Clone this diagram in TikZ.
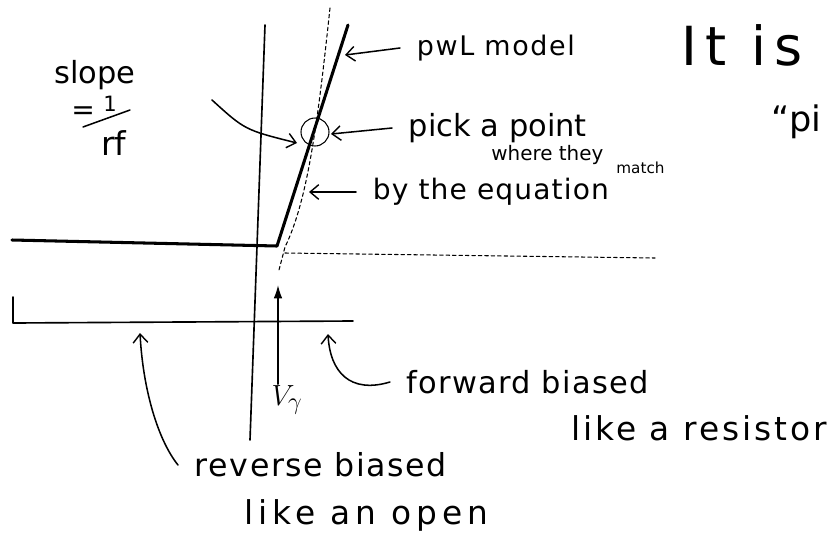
\documentclass[tikz,border=0pt]{standalone}
\usepackage{fontspec}
\setmainfont{DejaVu Sans}
\usepackage{amsmath}
\usetikzlibrary{arrows.meta,calc,positioning}

\begin{document}
\begin{tikzpicture}[x=0.03cm,y=-0.03cm,line cap=round,line join=round]
  \tikzset{txt/.style={inner sep=1pt, anchor=west, font=\fontsize{24}{28}\selectfont},
    note/.style={txt, inner xsep=5mm},
    hand/.style={line width=1.3pt, -{Straight Barb[length=2.6mm,width=4.4mm,line width=1.2pt]}},
    axis/.style={line width=1.4pt},
    pwlline/.style={line width=2.6pt},
    eqnline/.style={line width=0.9pt, dash pattern=on 3pt off 2.5pt}}
  \clip (0,0) rectangle (840,550);
  \fill[white] (0,0) rectangle (840,550);

  \draw[axis] (265,25) -- (250,440);
  \draw[axis] (13,297) -- (13,323) -- (353,321);
  \draw[pwlline] (12,240) -- (277,246) -- (348,25);
  \draw[eqnline] (330,8) .. controls (318,120) and (308,200) .. (285,247) -- (279,270);
  \draw[eqnline] (285,253) -- (655,258);
  \draw[line width=0.9pt] (315,132) circle[radius=14];

  \coordinate (pwlpt) at (345,55);
  \coordinate (circpt) at (331,134);
  \coordinate (eqpt) at (309,192);
  \coordinate (slopetail) at (212,100);
  \coordinate (slopept) at (297,143);
  \coordinate (vgpt) at (278,285);
  \coordinate (fwdpt) at (328,334);
  \coordinate (revpt) at (140,333);

  \node[note, font=\fontsize{23}{26}\selectfont\addfontfeature{LetterSpace=6}] (pwl) at (400,48) {pwL model};
  \node[note, font=\fontsize{26}{30}\selectfont] (pick) at (392,128) {pick a point};
  \node[txt, font=\fontsize{17}{20}\selectfont] (where) at (490,155) {where they};
  \node[txt, font=\fontsize{13}{15}\selectfont] (match) at (615,168) {match};
  \node[note, font=\fontsize{24}{28}\selectfont\addfontfeature{LetterSpace=4}] (eqn) at (356,192) {by the equation};
  \node[txt, font=\fontsize{46}{50}\selectfont\addfontfeature{LetterSpace=15}] (itis) at (680,45) {It is};
  \node[txt, font=\fontsize{30}{34}\selectfont] (pie) at (770,122) {“pi};

  \node[txt, font=\fontsize{26}{30}\selectfont] (slope) at (53,75) {slope};
  \node[txt] (eqsign) at (70,113) {=};
  \node[txt, font=\fontsize{18}{20}\selectfont] (one) at (102,104) {1};
  \node[txt, font=\fontsize{28}{32}\selectfont] (rf) at (100,143) {rf};
  \draw[line width=1.3pt] (83,127) -- (130,110);

  \node[txt, font=\fontsize{28}{32}\selectfont, anchor=center] (vg) at (287,400) {$V_{\gamma}$};
  \node[note, font=\fontsize{26}{30}\selectfont\addfontfeature{LetterSpace=4}] (fwd) at (390,382) {forward biased};
  \node[txt, font=\fontsize{28}{32}\selectfont\addfontfeature{LetterSpace=9}] (res) at (570,428) {like a resistor};
  \node[note, font=\fontsize{27}{31}\selectfont\addfontfeature{LetterSpace=5}] (rev) at (178,465) {reverse biased};
  \node[txt, font=\fontsize{28}{32}\selectfont\addfontfeature{LetterSpace=15}] (open) at (243,515) {like an open};

  \draw[hand] (pwl.west) -- (pwlpt);
  \draw[hand] (pick.west) -- (circpt);
  \draw[hand] (eqn.west) -- (eqpt);
  \draw[hand] (slopetail) .. controls (245,130) .. (slopept);
  \draw[line width=1.4pt, -{Latex[length=4mm,width=2.6mm]}] (vg.north -| vgpt) -- (vgpt);
  \draw[hand] (fwd.west) .. controls (350,394) and (330,372) .. (fwdpt);
  \draw[hand] (rev.west) .. controls (158,440) and (143,390) .. (revpt);
\end{tikzpicture}
\end{document}
